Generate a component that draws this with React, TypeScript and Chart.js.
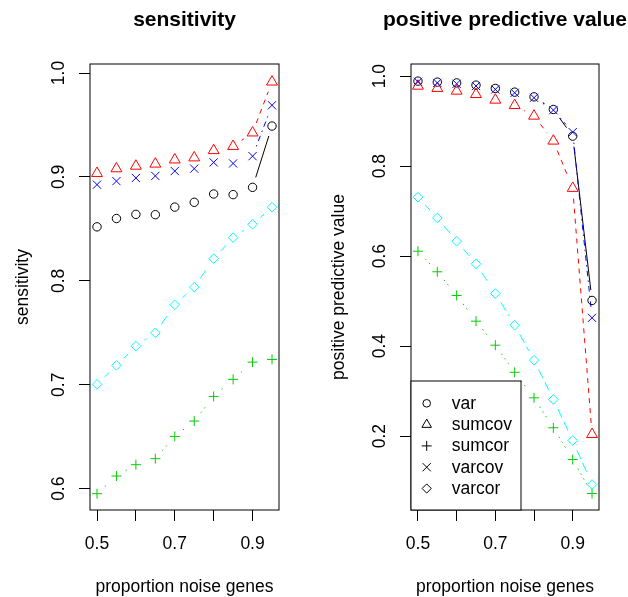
import { useEffect, useRef } from 'react';
import { Chart, registerables } from 'chart.js';

Chart.register(...registerables);

const FONT = "'Liberation Sans', Arial, Helvetica, sans-serif";

// ---------- data ----------
const NOISE = [0.5, 0.55, 0.6, 0.65, 0.7, 0.75, 0.8, 0.85, 0.9, 0.95];
const X_TICKS = [0.5, 0.6, 0.7, 0.8, 0.9];
const X_TICK_LABELS = ['0.5', '', '0.7', '', '0.9'];
const SENS_TICKS = [0.6, 0.7, 0.8, 0.9, 1.0];
const PPV_TICKS = [0.2, 0.4, 0.6, 0.8, 1.0];
const SERIES_NAMES = ['var', 'sumcov', 'sumcor', 'varcov', 'varcor'];

const SENS_VAR = [0.852, 0.860, 0.864, 0.8637, 0.871, 0.8756, 0.8836, 0.883, 0.890, 0.949];
const SENS_SUMCOV = [0.9035, 0.908, 0.9105, 0.9125, 0.9165, 0.9185, 0.9255, 0.9295, 0.9425, 0.9915];
const SENS_SUMCOR = [0.5952, 0.6122, 0.6231, 0.6289, 0.6503, 0.6651, 0.6888, 0.7052, 0.7218, 0.7244];
const SENS_VARCOV = [0.8926, 0.896, 0.899, 0.901, 0.9057, 0.908, 0.914, 0.913, 0.920, 0.969];
const SENS_VARCOR = [0.7004, 0.7187, 0.7372, 0.750, 0.777, 0.794, 0.8214, 0.8416, 0.8544, 0.871];

const PPV_VAR = [0.9889, 0.9867, 0.985, 0.980, 0.9727, 0.9645, 0.954, 0.926, 0.8667, 0.5016];
const PPV_SUMCOV = [0.978, 0.973, 0.967, 0.9595, 0.947, 0.935, 0.9115, 0.856, 0.751, 0.204];
const PPV_SUMCOR = [0.611, 0.5653, 0.5127, 0.4556, 0.4022, 0.342, 0.2853, 0.2187, 0.1482, 0.0727];
const PPV_VARCOV = [0.9875, 0.985, 0.983, 0.978, 0.9705, 0.963, 0.952, 0.9245, 0.8756, 0.463];
const PPV_VARCOR = [0.731, 0.685, 0.6333, 0.583, 0.517, 0.4467, 0.369, 0.2816, 0.1904, 0.0927];

// ---------- styles ----------
const STYLES = [
  { color: '#000000', pointStyle: 'circle', radius: 4.2, legendRadius: 3.8, dash: [] as number[] },
  { color: '#FF0000', pointStyle: 'triangle', radius: 6.3, legendRadius: 5.5, dash: [5, 5] },
  { color: '#00CD00', pointStyle: 'cross', radius: 5, legendRadius: 5, dash: [1.4, 4.2] },
  { color: '#0000FF', pointStyle: 'crossRot', radius: 5.8, legendRadius: 5.8, dash: [1.4, 4.2, 5.6, 4.2] },
  { color: '#00FFFF', pointStyle: 'rectRot', radius: 4.8, legendRadius: 4.6, dash: [9.8, 4.2] },
];

const GAP = 10.5;
const TICK_LEN = 11;
const FS = 17.5;

function drawSymbol(ctx: CanvasRenderingContext2D, style: string, x: number, y: number, r: number) {
  ctx.beginPath();
  if (style === 'circle') {
    ctx.arc(x, y, r, 0, Math.PI * 2);
  } else if (style === 'triangle') {
    ctx.moveTo(x, y - r);
    ctx.lineTo(x + Math.sin((2 * Math.PI) / 3) * r, y - Math.cos((2 * Math.PI) / 3) * r);
    ctx.lineTo(x + Math.sin((4 * Math.PI) / 3) * r, y - Math.cos((4 * Math.PI) / 3) * r);
    ctx.closePath();
  } else if (style === 'cross') {
    ctx.moveTo(x - r, y);
    ctx.lineTo(x + r, y);
    ctx.moveTo(x, y - r);
    ctx.lineTo(x, y + r);
  } else if (style === 'crossRot') {
    const o = r * Math.SQRT1_2;
    ctx.moveTo(x - o, y - o);
    ctx.lineTo(x + o, y + o);
    ctx.moveTo(x - o, y + o);
    ctx.lineTo(x + o, y - o);
  } else if (style === 'rectRot') {
    ctx.moveTo(x - r, y);
    ctx.lineTo(x, y - r);
    ctx.lineTo(x + r, y);
    ctx.lineTo(x, y + r);
    ctx.closePath();
  }
  ctx.stroke();
}

// lines drawn like R's type="b": segments between points with gaps around the points
const gapLines = {
  id: 'gapLines',
  beforeDatasetsDraw(chart: any) {
    const { ctx, chartArea: a } = chart;
    ctx.save();
    ctx.beginPath();
    ctx.rect(a.left, a.top, a.right - a.left, a.bottom - a.top);
    ctx.clip();
    chart.data.datasets.forEach((ds: any, i: number) => {
      const pts = chart.getDatasetMeta(i).data;
      ctx.strokeStyle = ds.borderColor;
      ctx.lineWidth = 1;
      ctx.setLineDash(ds.borderDash || []);
      for (let j = 1; j < pts.length; j++) {
        const p = pts[j - 1];
        const q = pts[j];
        const dx = q.x - p.x;
        const dy = q.y - p.y;
        const len = Math.hypot(dx, dy);
        if (len <= 2 * GAP) continue;
        const f = GAP / len;
        ctx.beginPath();
        ctx.moveTo(p.x + dx * f, p.y + dy * f);
        ctx.lineTo(q.x - dx * f, q.y - dy * f);
        ctx.stroke();
      }
    });
    ctx.restore();
  },
};

// let the (plot-centred) title overflow the plot width instead of being squeezed
const wideTitle = {
  id: 'wideTitle',
  afterLayout(chart: any) {
    const t = chart.titleBlock;
    if (t) {
      t.left -= 120;
      t.right += 120;
      t.width = t.right - t.left;
    }
  },
};

const plotBox = {
  id: 'plotBox',
  afterDraw(chart: any) {
    const { ctx, chartArea: a } = chart;
    ctx.save();
    ctx.strokeStyle = '#000';
    ctx.lineWidth = 1;
    ctx.setLineDash([]);
    ctx.strokeRect(a.left, a.top, a.right - a.left, a.bottom - a.top);
    ctx.restore();
  },
};

const boxLegend = {
  id: 'boxLegend',
  afterDraw(chart: any) {
    const { ctx, chartArea: a } = chart;
    const w = 110;
    const h = 129;
    const left = a.left;
    const top = a.bottom - h;
    ctx.save();
    ctx.fillStyle = '#fff';
    ctx.fillRect(left, top, w, h);
    ctx.strokeStyle = '#000';
    ctx.lineWidth = 1;
    ctx.setLineDash([]);
    ctx.strokeRect(left, top, w, h);
    ctx.font = `${FS}px ${FONT}`;
    ctx.fillStyle = '#000';
    ctx.textBaseline = 'middle';
    ctx.textAlign = 'left';
    SERIES_NAMES.forEach((name, i) => {
      const cy = top + 22.3 + i * 21.3;
      drawSymbol(ctx, STYLES[i].pointStyle, left + 15.7, cy, STYLES[i].legendRadius);
      ctx.fillText(name, left + 40.7, cy + 0.7);
    });
    ctx.restore();
  },
};

interface PanelSpec {
  title: string;
  yTitle: string;
  series: number[][];
  yMin: number;
  yMax: number;
  yTicks: number[];
  axisWidth: number;
  padRight: number;
  yTitlePad: number;
  legend: boolean;
}

function buildConfig(spec: PanelSpec): any {
  const datasets = spec.series.map((vals, i) => ({
    label: SERIES_NAMES[i],
    data: NOISE.map((x, j) => ({ x, y: vals[j] })),
    showLine: false,
    borderColor: STYLES[i].color,
    borderDash: STYLES[i].dash,
    pointStyle: STYLES[i].pointStyle,
    pointRadius: STYLES[i].radius,
    pointBorderColor: STYLES[i].color,
    pointBackgroundColor: 'rgba(0,0,0,0)',
    pointBorderWidth: 1,
    order: 4 - i,
  }));
  const grid = {
    display: true,
    drawOnChartArea: false,
    drawTicks: true,
    tickLength: TICK_LEN,
    color: '#000',
    tickColor: '#000',
    lineWidth: 1,
  };
  const plugins = [gapLines, plotBox, wideTitle];
  if (spec.legend) plugins.push(boxLegend);
  return {
    type: 'scatter',
    data: { datasets },
    plugins,
    options: {
      responsive: false,
      animation: false,
      devicePixelRatio: 1,
      events: [],
      layout: { padding: { left: 0, right: spec.padRight, top: 0, bottom: 0 } },
      font: { family: FONT },
      plugins: {
        legend: { display: false },
        tooltip: { enabled: false },
        title: {
          display: true,
          text: spec.title,
          fullSize: false,
          color: '#000',
          font: { family: FONT, size: 21, weight: 'bold' },
          padding: { top: 8.1, bottom: 30.7 },
        },
      },
      scales: {
        x: {
          type: 'linear',
          position: 'bottom',
          min: 0.482,
          max: 0.968,
          afterBuildTicks: (s: any) => {
            s.ticks = X_TICKS.map((v) => ({ value: v }));
          },
          afterFit: (s: any) => {
            s.height = 87;
          },
          ticks: {
            autoSkip: false,
            maxRotation: 0,
            minRotation: 0,
            color: '#000',
            padding: 13,
            font: { family: FONT, size: FS },
            callback: (_v: any, i: number) => X_TICK_LABELS[i],
          },
          grid,
          border: { display: false },
          title: {
            display: true,
            text: 'proportion noise genes',
            color: '#000',
            font: { family: FONT, size: FS },
            padding: { top: 0, bottom: -1 },
          },
        },
        y: {
          type: 'linear',
          position: 'left',
          min: spec.yMin,
          max: spec.yMax,
          afterBuildTicks: (s: any) => {
            s.ticks = spec.yTicks.map((v) => ({ value: v }));
          },
          afterFit: (s: any) => {
            s.width = spec.axisWidth;
          },
          ticks: {
            autoSkip: false,
            minRotation: 90,
            maxRotation: 90,
            crossAlign: 'center',
            color: '#000',
            padding: 7.2,
            font: { family: FONT, size: FS },
            callback: (v: any) => Number(v).toFixed(1),
          },
          grid,
          border: { display: false },
          title: {
            display: true,
            text: spec.yTitle,
            color: '#000',
            font: { family: FONT, size: FS },
            padding: { top: spec.yTitlePad, bottom: 0 },
          },
        },
      },
    },
  };
}

function Panel({ spec }: { spec: PanelSpec }) {
  const ref = useRef<HTMLCanvasElement | null>(null);
  useEffect(() => {
    if (!ref.current) return;
    const chart = new Chart(ref.current, buildConfig(spec));
    return () => chart.destroy();
  }, []);
  return (
    <canvas
      ref={ref}
      width={314}
      height={597}
      style={{ display: 'block', width: 314, height: 597 }}
    />
  );
}

const LEFT: PanelSpec = {
  title: 'sensitivity',
  yTitle: 'sensitivity',
  series: [SENS_VAR, SENS_SUMCOV, SENS_SUMCOR, SENS_VARCOV, SENS_VARCOR],
  yMin: 0.5795,
  yMax: 1.0087,
  yTicks: SENS_TICKS,
  axisWidth: 90,
  padRight: 35,
  yTitlePad: 12.5,
  legend: false,
};

const RIGHT: PanelSpec = {
  title: 'positive predictive value',
  yTitle: 'positive predictive value',
  series: [PPV_VAR, PPV_SUMCOV, PPV_SUMCOR, PPV_VARCOV, PPV_VARCOR],
  yMin: 0.036,
  yMax: 1.027,
  yTicks: PPV_TICKS,
  axisWidth: 97,
  padRight: 29,
  yTitlePad: 15,
  legend: true,
};

export default function App() {
  return (
    <div
      style={{
        position: 'fixed',
        left: 0,
        top: 0,
        width: 628,
        height: 597,
        display: 'flex',
        background: '#fff',
      }}
    >
      <Panel spec={LEFT} />
      <Panel spec={RIGHT} />
    </div>
  );
}
